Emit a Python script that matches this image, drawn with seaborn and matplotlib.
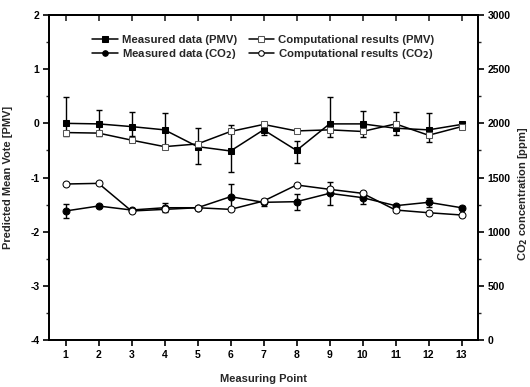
import numpy as np
import pandas as pd
import seaborn as sns
import matplotlib.pyplot as plt
from matplotlib.ticker import MultipleLocator

# Measuring points 1..13
points = np.arange(1, 14)

# PMV (left axis)
pmv_meas = [0.0, -0.01, -0.06, -0.12, -0.43, -0.51, -0.12, -0.50, -0.01, -0.01, -0.09, -0.12, -0.02]
pmv_meas_lo = [0.23, 0.22, 0.17, 0.30, 0.32, 0.39, 0.10, 0.24, 0.24, 0.24, 0.13, 0.22, 0.03]
pmv_meas_hi = [0.49, 0.26, 0.27, 0.32, 0.35, 0.48, 0.10, 0.17, 0.50, 0.24, 0.30, 0.32, 0.03]
pmv_comp = [-0.17, -0.18, -0.31, -0.43, -0.38, -0.15, -0.02, -0.14, -0.12, -0.15, -0.01, -0.22, -0.06]

# CO2 (right axis)
co2_meas = [1191, 1237, 1200, 1221, 1221, 1323, 1271, 1277, 1354, 1314, 1240, 1271, 1221]
co2_meas_err = [65, 10, 10, 40, 20, 120, 30, 75, 105, 55, 15, 40, 15]
co2_comp = [1440, 1446, 1191, 1206, 1221, 1206, 1283, 1431, 1391, 1354, 1200, 1175, 1154]

sns.set_theme(style="ticks")
plt.rcParams['font.family'] = ['Liberation Sans', 'DejaVu Sans']
plt.rcParams['font.weight'] = 'bold'
plt.rcParams['axes.labelweight'] = 'bold'
plt.rcParams['axes.unicode_minus'] = False

df = pd.DataFrame({
    "point": points,
    "pmv_meas": pmv_meas,
    "pmv_comp": pmv_comp,
    "co2_meas": co2_meas,
    "co2_comp": co2_comp,
})

fig = plt.figure(figsize=(5.3, 3.87), dpi=100)
ax = fig.add_axes([0.0925, 0.1214, 0.8095, 0.8398])
ax2 = ax.twinx()

ms = 5
# error bars
ax.errorbar(points, pmv_meas, yerr=[pmv_meas_lo, pmv_meas_hi], fmt='none',
            ecolor='black', elinewidth=1, capsize=2.5, capthick=1, zorder=2)
ax2.errorbar(points, co2_meas, yerr=co2_meas_err, fmt='none',
             ecolor='black', elinewidth=1, capsize=2.5, capthick=1, zorder=2)

sns.lineplot(data=df, x="point", y="pmv_meas", ax=ax, color='black', lw=1.1,
             marker='s', markersize=ms, markerfacecolor='black', markeredgecolor='black',
             label="Measured data (PMV)", legend=False)
sns.lineplot(data=df, x="point", y="pmv_comp", ax=ax, color='black', lw=1.1,
             marker='s', markersize=ms, markerfacecolor='white', markeredgecolor='#555555',
             label="Computational results (PMV)", legend=False)
sns.lineplot(data=df, x="point", y="co2_meas", ax=ax2, color='black', lw=1.1,
             marker='o', markersize=ms, markerfacecolor='black', markeredgecolor='black',
             label="Measured data (CO$_2$)", legend=False)
sns.lineplot(data=df, x="point", y="co2_comp", ax=ax2, color='black', lw=1.1,
             marker='o', markersize=ms, markerfacecolor='white', markeredgecolor='black',
             label="Computational results (CO$_2$)", legend=False)

ax.set_xlim(0.5, 13.5)
ax.set_ylim(-4, 2)
ax2.set_ylim(0, 3000)
ax.set_xticks(points)
ax.set_yticks(np.arange(-4, 3, 1))
ax.yaxis.set_minor_locator(MultipleLocator(0.5))
ax2.set_yticks(np.arange(0, 3001, 500))
ax2.yaxis.set_minor_locator(MultipleLocator(250))

for a in (ax, ax2):
    for s in a.spines.values():
        s.set_linewidth(1.3)
        s.set_color('black')
        s.set_visible(True)

ax.tick_params(axis='both', which='major', labelsize=7.5, width=1.2, length=4, colors='black', pad=3)
ax.tick_params(axis='y', which='minor', width=1, length=2.5)
ax2.tick_params(axis='y', which='major', labelsize=7.5, width=1.2, length=4, colors='black', pad=3)
ax2.tick_params(axis='y', which='minor', width=1, length=2.5)

# top axis ticks pointing inward
top = ax.secondary_xaxis('top')
top.set_xticks(points)
top.tick_params(axis='x', direction='in', length=4, width=1.2, labeltop=False)
top.spines['top'].set_linewidth(1.3)

for lab in ax.get_xticklabels() + ax.get_yticklabels() + ax2.get_yticklabels():
    lab.set_fontweight('bold')

ax.set_xlabel("Measuring Point", fontsize=8, fontweight='bold', labelpad=10)
ax.set_ylabel("Predicted Mean Vote [PMV]", fontsize=8, fontweight='bold')
ax2.set_ylabel("CO$_2$ concentration [ppm]", fontsize=8, fontweight='bold')
ax.yaxis.set_label_coords(-0.085, 0.5)
ax2.yaxis.set_label_coords(1.088, 0.45)

h1, l1 = ax.get_legend_handles_labels()
h2, l2 = ax2.get_legend_handles_labels()
handles = [h1[0], h2[0], h1[1], h2[1]]
labels = [l1[0], l2[0], l1[1], l2[1]]
ax.legend(handles, labels, loc='upper center', bbox_to_anchor=(0.5, 0.97), ncol=2,
          frameon=False, fontsize=8.2, handlelength=2.2, columnspacing=1.0,
          labelspacing=0.2, handletextpad=0.4, markerscale=0.8)

fig.savefig("out.png", dpi=100)
